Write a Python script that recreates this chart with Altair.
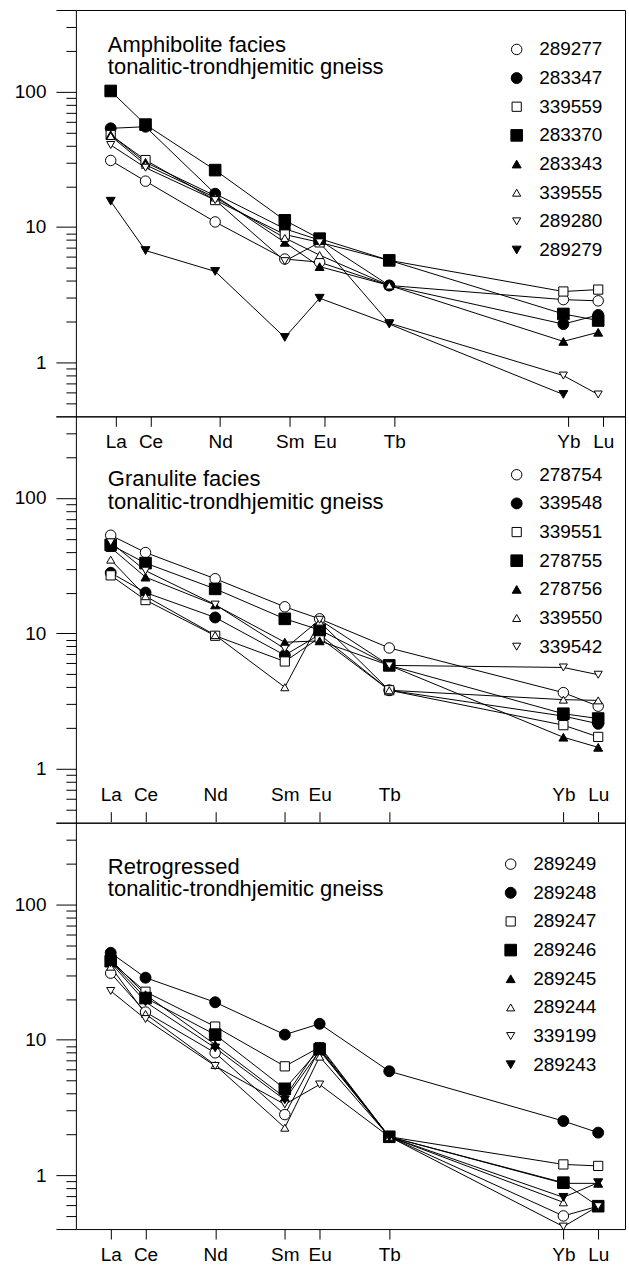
import altair as alt
import pandas as pd

# ---------------- data ----------------
ELEMENTS = ["La", "Ce", "Nd", "Sm", "Eu", "Tb", "Yb", "Lu"]
ATOMIC_NUMBER = [57, 58, 60, 62, 63, 65, 70, 71]

Y_LABELLED = [1, 10, 100]
Y_ENDS = [0.4, 400]
Y_MINOR = [0.5, 0.6, 0.7, 0.8, 0.9, 2, 3, 4, 5, 6, 7, 8, 9,
           20, 30, 40, 50, 60, 70, 80, 90, 200, 300]

SHAPES = ["circle", "circle", "square", "square",
          "triangle-up", "triangle-up", "triangle-down", "triangle-down"]
FILLS = ["white", "black", "white", "black", "black", "white", "white", "black"]
SIZES = [110, 120, 85, 135, 80, 65, 65, 80]

P1_TITLE = ["Amphibolite facies", "tonalitic-trondhjemitic gneiss"]
P1_SAMPLES = ["289277", "283347", "339559", "283370", "283343", "339555", "289280", "289279"]
P1_VALUES = [
    [31.0, 21.8, 10.9, 5.8, 5.5, 3.7, 2.91, 2.85],
    [53.5, 55.0, 17.6, 9.7, 8.0, 3.7, 1.92, 2.24],
    [47.8, 31.2, 15.8, 8.8, 7.7, 5.67, 3.34, 3.45],
    [101.0, 57.0, 26.3, 11.2, 8.2, 5.67, 2.28, 2.04],
    [48.0, 30.0, 17.0, 7.7, 5.1, 3.7, 1.43, 1.67],
    [47.0, 28.8, 16.5, 8.3, 6.2, 3.7, None, None],
    [40.3, 27.4, 15.8, 5.6, 7.7, 1.95, 0.80, 0.58],
    [15.5, 6.7, 4.7, 1.53, 2.98, 1.92, 0.58, None],
]

P2_TITLE = ["Granulite facies", "tonalitic-trondhjemitic gneiss"]
P2_SAMPLES = ["278754", "339548", "339551", "278755", "278756", "339550", "339542"]
P2_VALUES = [
    [53.0, 39.5, 25.3, 15.7, 12.8, 7.8, 3.65, 2.9],
    [28.0, 20.0, 13.1, 6.9, 9.8, 3.8, 2.45, 2.15],
    [26.8, 17.6, 9.6, 6.2, 9.3, 3.8, 2.1, 1.72],
    [45.0, 33.0, 21.3, 12.8, 10.6, 5.8, 2.55, 2.35],
    [43.0, 26.0, 16.2, 8.6, 8.8, 5.8, 1.71, 1.44],
    [35.0, 18.8, 9.7, 4.0, 12.2, 3.8, 3.24, 3.2],
    [47.0, 29.0, 16.3, 7.7, 12.6, 5.8, 5.6, 4.95],
]

P3_TITLE = ["Retrogressed", "tonalitic-trondhjemitic gneiss"]
P3_SAMPLES = ["289249", "289248", "289247", "289246", "289245", "289244", "339199", "289243"]
P3_VALUES = [
    [31.0, 16.0, 8.0, 2.8, 8.5, 1.92, 0.50, 0.59],
    [43.8, 28.7, 18.9, 10.9, 13.1, 5.85, 2.51, 2.06],
    [37.7, 22.6, 12.5, 6.36, 8.8, 1.92, 1.2, 1.17],
    [38.0, 20.3, 10.9, 4.34, 8.5, 1.92, 0.88, 0.59],
    [39.0, 21.5, 9.2, 3.75, 9.0, 1.92, 0.87, 0.87],
    [34.6, 15.5, 6.5, 2.24, 7.5, 1.92, 0.63, None],
    [22.9, 14.2, 6.4, 3.33, 4.67, 1.92, 0.417, 0.59],
    [37.0, 19.0, 8.7, 3.6, 8.3, 1.92, 0.686, 0.88],
]

# ---------------- layout / style ----------------
FONT = "Liberation Sans"
PANEL_W, PANEL_H = 550, 407
X_DOMAIN = [56.0, 71.77]
X_DOMAIN_SHIFTED = [55.857, 71.627]   # panel 1 axis is drawn slightly offset
Y_DOMAIN = [0.4, 400]

x_label_expr = "{}[indexof({}, datum.value)]".format(
    "[" + ",".join("'%s'" % e for e in ELEMENTS) + "]",
    "[" + ",".join(str(z) for z in ATOMIC_NUMBER) + "]")

AXIS_STYLE = dict(tickColor="black", tickWidth=1, labelFontSize=19, labelFont=FONT,
                  labelColor="black", domain=False, grid=False, title=None, labelOverlap=False)
TICK_ONLY = dict(labels=False, tickColor="black", tickWidth=1, domain=False, grid=False, title=None)


def x_axis_layer(domain, offset=0, label_padding=6, baseline="top"):
    return alt.Chart(pd.DataFrame({"z": ATOMIC_NUMBER})).mark_point(opacity=0, size=0).encode(
        x=alt.X("z:Q", scale=alt.Scale(domain=domain, nice=False, zero=False),
                axis=alt.Axis(orient="bottom", values=ATOMIC_NUMBER, labelExpr=x_label_expr,
                              tickSize=10, offset=offset, labelPadding=label_padding,
                              labelBaseline=baseline, labelFlush=False, **AXIS_STYLE)),
        y=alt.value(PANEL_H / 2),
    )


def y_tick_layer(values, size, ys):
    return alt.Chart(pd.DataFrame({"v": values})).mark_point(opacity=0, size=0).encode(
        y=alt.Y("v:Q", scale=ys,
                axis=alt.Axis(orient="left", values=values, tickSize=size, **TICK_ONLY)),
        x=alt.value(PANEL_W / 2),
    )


def panel(samples, values, title, title_y, legend_x, legend_y, x_axes):
    rows = []
    for k, (s, vals) in enumerate(zip(samples, values)):
        for el, z, v in zip(ELEMENTS, ATOMIC_NUMBER, vals):
            if v is not None:
                rows.append({"sample": s, "element": el, "z": z, "value": v, "k": k})
    df = pd.DataFrame(rows)
    n = len(samples)
    xs = alt.Scale(domain=X_DOMAIN, nice=False, zero=False)
    ys = alt.Scale(type="log", domain=Y_DOMAIN, nice=False)
    major_axis = alt.Axis(orient="left", values=Y_LABELLED, format="d", tickSize=20,
                          labelPadding=10, **AXIS_STYLE)
    leg = alt.Legend(orient="none", legendX=legend_x, legendY=legend_y, title=None,
                     labelFontSize=19, labelFont=FONT, labelColor="black", rowPadding=8.7,
                     labelOffset=13, symbolStrokeColor="black", symbolStrokeWidth=1,
                     padding=0, symbolOpacity=1)
    base = alt.Chart(df)
    lines = base.mark_line(color="black", strokeWidth=1).encode(
        x=alt.X("z:Q", scale=xs, axis=None),
        y=alt.Y("value:Q", scale=ys, axis=major_axis),
        detail="sample:N",
        order="z:Q",
    )
    points = base.mark_point(filled=True, strokeWidth=1, opacity=1).encode(
        x=alt.X("z:Q", scale=xs, axis=None),
        y=alt.Y("value:Q", scale=ys, axis=None),
        shape=alt.Shape("sample:N", scale=alt.Scale(domain=samples, range=SHAPES[:n]), legend=leg),
        fill=alt.Fill("sample:N", scale=alt.Scale(domain=samples, range=FILLS[:n]), legend=leg),
        stroke=alt.Stroke("sample:N", scale=alt.Scale(domain=samples, range=["black"] * n),
                          legend=leg),
        size=alt.Size("sample:N", scale=alt.Scale(type="ordinal", domain=samples, range=SIZES[:n]),
                      legend=leg),
        order=alt.Order("k:Q"),
    )
    text = alt.Chart(pd.DataFrame({"t": [0]})).mark_text(
        text=title, align="left", baseline="alphabetic", fontSize=22, font=FONT,
        lineHeight=22.5, color="black"
    ).encode(x=alt.value(32), y=alt.value(title_y))
    layers = [y_tick_layer(Y_MINOR, 10, ys), y_tick_layer(Y_ENDS, 20, ys),
              lines, points, text] + x_axes
    return alt.layer(*layers).resolve_scale(x="independent").resolve_axis(
        y="independent").properties(width=PANEL_W, height=PANEL_H)


# panel 1: axis below it (labels fall into panel 2)
p1 = panel(P1_SAMPLES, P1_VALUES, P1_TITLE, 42, 432, 30,
           [x_axis_layer(X_DOMAIN_SHIFTED)])
# panel 2: carries the axis that sits on top of panel 3 (ticks end on the shared edge)
p2 = panel(P2_SAMPLES, P2_VALUES, P2_TITLE, 70, 432, 49,
           [x_axis_layer(X_DOMAIN, offset=-11, label_padding=-21, baseline="alphabetic")])
# panel 3: axis at the bottom
p3 = panel(P3_SAMPLES, P3_VALUES, P3_TITLE, 51, 426, 32,
           [x_axis_layer(X_DOMAIN)])

chart = alt.vconcat(p1, p2, p3, spacing=0, bounds="flush").resolve_scale(
    x="independent", y="independent", shape="independent", fill="independent",
    stroke="independent", size="independent"
).configure_view(stroke="black", strokeWidth=1).properties(
    padding={"left": 13, "top": 8, "right": 3, "bottom": 3}, background="white"
)

chart.save("out.html", embed_options={"renderer": "svg", "actions": False})
